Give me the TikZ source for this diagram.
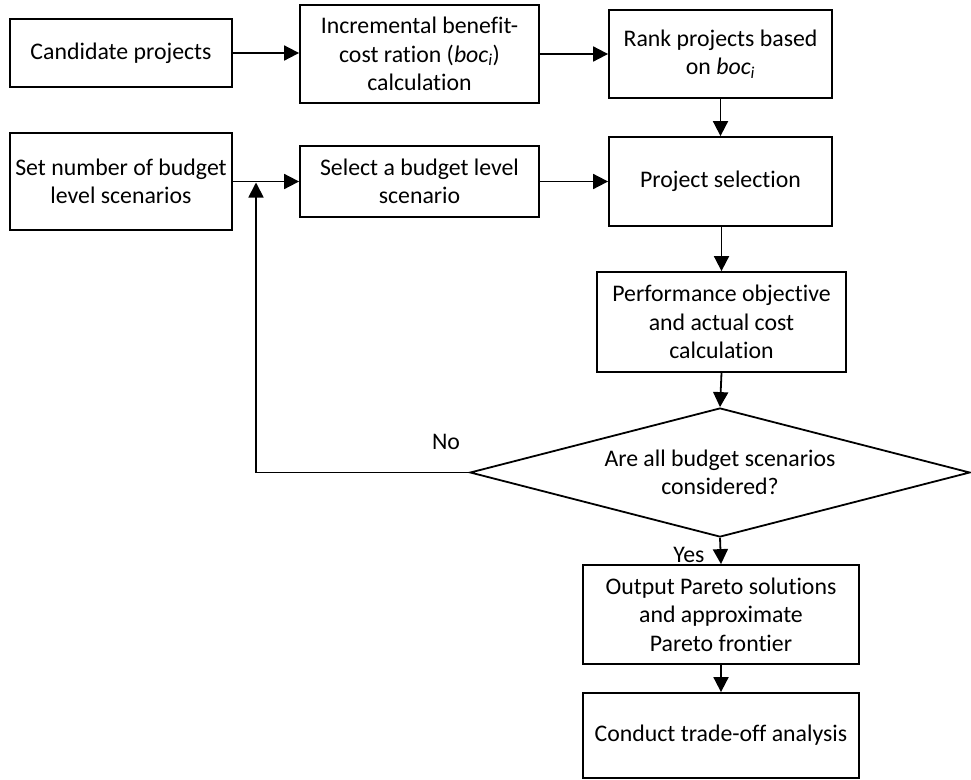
\documentclass[tikz,border=0pt]{standalone}
\usepackage{fontspec}
\setmainfont{Carlito}[Ligatures=NoCommon]
\usetikzlibrary{arrows.meta,shapes.geometric}

\newcommand{\boci}{\textit{boc}\textsubscript{\textit{i}}}

\tikzset{
  stepbox/.style={draw, line width=1.8pt, rectangle, inner sep=0pt, align=center,
    font=\fontsize{23.8}{28.5}\selectfont},
  decision/.style={draw, line width=1.8pt, diamond, inner sep=0pt, align=center,
    shape aspect=3.9, font=\fontsize{23.8}{28.5}\selectfont},
  flow/.style={line width=1.8pt, -{Triangle[length=15pt,width=15pt]}},
  tag/.style={font=\fontsize{23.8}{28.5}\selectfont, inner sep=0pt}
}

\begin{document}
\begin{tikzpicture}[x=1pt,y=-1pt]
  \useasboundingbox (0,0) rectangle (971,779);

  % top row
  \node[stepbox, minimum width=222pt, minimum height=68pt] (cand) at (121,53) {Candidate projects};
  \node[stepbox, minimum width=239pt, minimum height=98pt] (inc) at (419.5,54) {Incremental benefit-\\cost ration (\boci)\\calculation};
  \node[stepbox, minimum width=223pt, minimum height=88pt] (rank) at (720.5,54) {Rank projects based\\on \boci};

  % second row
  \node[stepbox, minimum width=222pt, minimum height=97pt] (set) at (121,181.5) {Set number of budget\\level scenarios};
  \node[stepbox, minimum width=239pt, minimum height=71pt] (sel) at (419.5,181.5) {Select a budget level\\scenario};
  \node[stepbox, minimum width=223pt, minimum height=89pt] (psel) at (720.5,181.5) {Project selection};

  % right column
  \node[stepbox, minimum width=249pt, minimum height=100pt] (perf) at (721.5,322) {Performance objective\\and actual cost\\calculation};
  \node[decision, minimum width=500pt, minimum height=129pt] (dec) at (720,472.5) {Are all budget scenarios\\considered?};
  \node[stepbox, minimum width=276pt, minimum height=99pt] (out) at (721,614.5) {Output Pareto solutions\\and approximate\\Pareto frontier};
  \node[stepbox, minimum width=276pt, minimum height=85pt] (conduct) at (721,735.5) {Conduct trade-off analysis};

  % loop-back point on the second-row connector
  \coordinate (back) at (256,182.5);

  % connectors
  \draw[flow] (cand.east) -- (cand.east -| inc.west);
  \draw[flow] (inc.east) -- (rank.west);
  \draw[flow] (rank.south) -- (psel.north);
  \draw[flow] (set.east) -- (sel.west);
  \draw[flow] (sel.east) -- (psel.west);
  \draw[flow] (psel.south -| perf.north) -- (perf.north);
  \draw[flow] (perf.south) -- (dec.north);
  \draw[flow] (dec.south) -- (out.north);
  \draw[flow] (out.south) -- (conduct.north);
  \draw[flow] (dec.west) -| (back);

  % branch labels
  \node[tag] (no) at (446,442) {No};
  \node[tag] (yes) at (689,555) {Yes};
\end{tikzpicture}
\end{document}
